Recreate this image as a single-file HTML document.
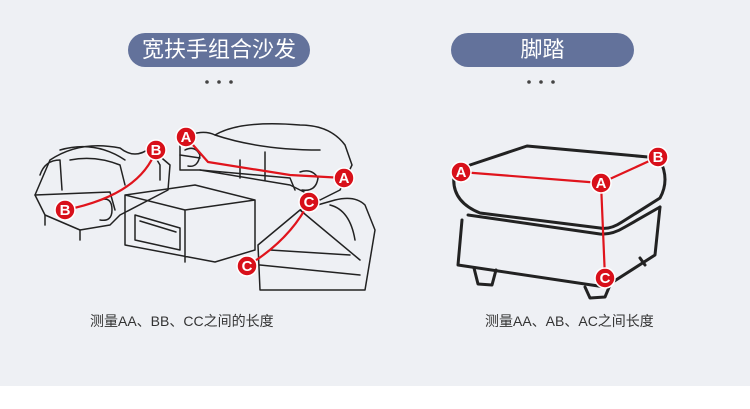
<!DOCTYPE html>
<html><head><meta charset="utf-8"><style>
body{margin:0;width:750px;height:409px;background:#fff;font-family:"Liberation Sans","Noto Sans CJK SC",sans-serif;overflow:hidden}
.bg{position:absolute;left:0;top:0;width:750px;height:386px;background:#eef0f4}
.pill{position:absolute;top:33px;height:34px;border-radius:17px;background:#63729b;color:#fff;font-size:22px;line-height:34px;text-align:center}
.cap{position:absolute;font-size:14px;color:#333}
</style></head><body>
<div class="bg"></div>
<div class="pill" style="left:128px;width:182px">宽扶手组合沙发</div>
<div class="pill" style="left:451px;width:183px">脚踏</div>
<svg width="750" height="409" style="position:absolute;left:0;top:0" fill="none" stroke="#222" stroke-linecap="round" stroke-linejoin="round">
<g fill="#444" stroke="none"><circle cx="207" cy="82" r="1.8"/><circle cx="219" cy="82" r="1.8"/><circle cx="231" cy="82" r="1.8"/><circle cx="529" cy="82" r="1.8"/><circle cx="541" cy="82" r="1.8"/><circle cx="553" cy="82" r="1.8"/></g>
<g stroke-width="1.5">
<!-- left armchair -->
<path d="M50 160 Q80 140 120 148 Q135 160 150 148 L170 165 L168 190 L120 215 L110 225 L80 230 L45 215 L35 195 Z"/>
<path d="M35 195 L110 192 L115 210 M45 215 L45 225 M80 230 L80 240 M60 150 Q95 140 125 160"/>
<path d="M40 175 Q45 160 60 160 L62 190 M70 160 Q95 155 120 165 L125 185 M150 148 L160 165 L160 180"/>
<path d="M100 200 Q112 196 112 210 Q112 222 100 220"/>
<!-- middle sofa -->
<path d="M180 140 Q200 128 215 135 Q240 120 300 125 Q330 125 345 145 L352 165 L340 190 L320 200 L290 185 L200 170 L180 170 Z"/>
<path d="M215 135 Q260 150 320 150 M200 170 L290 178 M240 160 L240 178 M265 152 L265 180 M180 155 L200 158 M290 178 L295 190"/>
<path d="M185 150 Q195 145 200 155 Q198 168 188 166"/>
<path d="M300 172 Q312 168 318 178 Q316 192 302 190"/>
<!-- table -->
<path d="M125 195 L195 185 L255 200 L255 250 L215 262 L125 245 Z M125 195 L185 210 L255 200 M185 210 L185 262 M135 215 L180 228 L180 250 L135 240 Z M140 221 L176 232"/>
<!-- right chair -->
<path d="M258 245 L300 210 L335 200 Q355 195 365 205 L375 230 L365 290 L260 290 Z M300 210 L360 260 M260 265 L360 275 M330 205 Q350 210 355 240 M270 250 L350 255"/>
</g>
<!-- ottoman -->
<g stroke-width="3">
<path d="M470 165 L527 146 L648 157"/>
<path d="M455 170 Q448 200 480 213 L600 228 Q610 230 622 222 L660 198 Q670 180 660 160"/>
<path d="M468 215 L600 234 Q612 235 625 227 L660 207"/>
<path d="M462 220 L458 265 L605 287 L655 255 L660 207"/>
<path d="M474 268 L478 284 L492 285 L496 270 M585 287 L590 298 L605 297 L610 285 M640 258 L645 265"/>
</g>
<g stroke="#e0141c" stroke-width="2.2">
<path d="M186 137 L208 162 L290 175 L344 178"/>
<path d="M156 150 Q140 195 65 210"/>
<path d="M309 202 Q290 240 247 266"/>
<path d="M461 172 L601 183 L658 157 M601 183 L605 278"/>
</g>
<g fill="#d8101a" stroke="#fff" stroke-width="1.5">
<circle cx="186" cy="137" r="10"/><circle cx="344" cy="178" r="10"/><circle cx="156" cy="150" r="10"/><circle cx="65" cy="210" r="10"/><circle cx="309" cy="202" r="10"/><circle cx="247" cy="266" r="10"/>
<circle cx="461" cy="172" r="10"/><circle cx="601" cy="183" r="10"/><circle cx="658" cy="157" r="10"/><circle cx="605" cy="278" r="10"/>
</g>
<g fill="#fff" stroke="none" font-family="Liberation Sans" font-weight="bold" font-size="15" text-anchor="middle">
<text x="186" y="142">A</text><text x="344" y="183">A</text><text x="156" y="155">B</text><text x="65" y="215">B</text><text x="309" y="207">C</text><text x="247" y="271">C</text>
<text x="461" y="177">A</text><text x="601" y="188">A</text><text x="658" y="162">B</text><text x="605" y="283">C</text>
</g>
</svg>
<div class="cap" style="left:90px;top:311px">测量AA、BB、CC之间的长度</div>
<div class="cap" style="left:485px;top:311px">测量AA、AB、AC之间长度</div>
</body></html>
